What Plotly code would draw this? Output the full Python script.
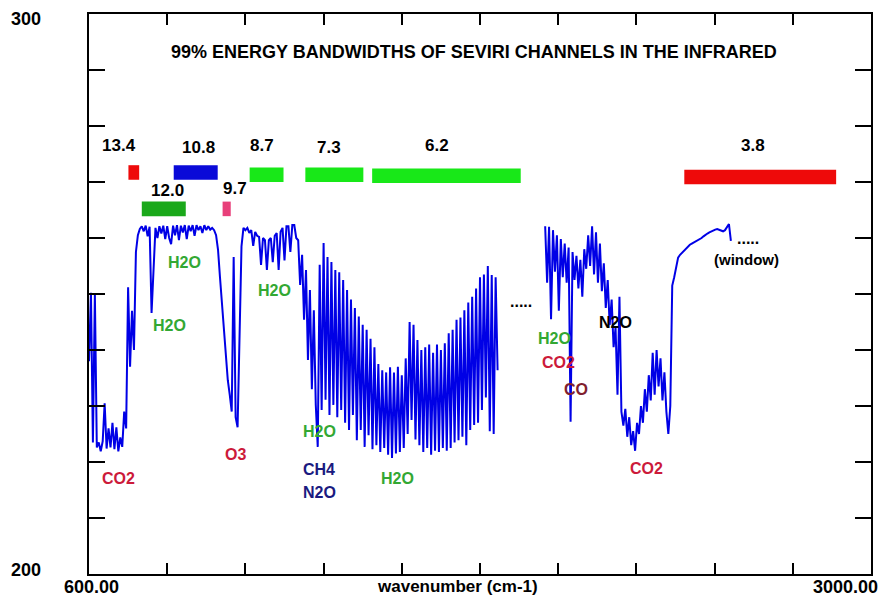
import numpy as np
import plotly.graph_objects as go

# ---------------- data ----------------
# spectrum segment 1 (sampled every 6 cm-1 from 600 cm-1)
seg1_start, seg1_step = 600, 6
seg1_T = [
    238.0, 250.2, 223.5, 250.0, 222.6, 223.5, 221.9, 223.7, 230.5, 222.4,
    226.0, 222.6, 227.0, 222.3, 226.2, 221.9, 224.4, 222.7, 229.0, 226.0,
    251.2, 237.0, 247.0, 240.0, 257.5, 260.5, 261.6, 262.1, 261.2, 262.2,
    260.3, 262.0, 246.6, 254.0, 261.8, 260.0, 262.1, 260.8, 262.2, 259.8,
    262.1, 260.0, 258.9, 262.2, 260.5, 262.3, 259.6, 262.2, 261.0, 262.3,
    259.8, 262.2, 261.2, 262.3, 260.4, 262.3, 261.4, 262.1, 260.9, 262.3,
    261.4, 262.1, 261.5, 261.8, 261.4, 260.5, 257.9, 253.0, 248.5, 243.6,
    240.0, 234.6, 232.0, 229.0, 256.6, 228.0, 226.2, 240.0, 258.5, 261.8,
    261.4, 261.8, 260.9, 261.4, 258.6, 261.1, 260.4, 260.2, 255.2, 260.0,
    259.6, 254.3, 259.6, 260.0, 255.7, 260.4, 260.9, 254.3, 261.1, 261.8,
    256.0, 262.1, 262.1, 257.5, 262.3, 262.3, 260.0, 259.6, 251.6, 257.0,
    245.4, 254.3, 238.2, 250.7, 233.0, 247.1, 230.2, 222.7, 255.2, 229.3,
    259.1, 231.1, 256.6, 228.4, 255.7, 230.2, 254.3, 228.0, 253.9, 229.3,
    252.5, 227.0, 250.7, 225.7, 249.0, 228.4, 247.5, 223.9, 246.0, 225.7,
    244.5, 222.7, 243.6, 224.8, 242.0, 222.3, 240.5, 223.0, 237.5, 221.8,
    236.4, 222.5, 236.0, 221.3, 236.9, 220.7, 236.0, 221.5, 237.0, 221.8,
    235.5, 222.5, 238.5, 225.0, 245.0, 227.5, 244.5, 224.0, 241.8, 223.0,
    240.0, 221.8, 240.5, 222.5, 241.0, 221.3, 239.5, 222.0, 241.0, 221.8,
    240.0, 222.5, 241.2, 222.0, 243.0, 222.5, 243.6, 223.5, 245.4, 223.9,
    245.8, 224.5, 247.1, 223.0, 248.5, 225.7, 249.5, 226.6, 251.0, 227.0,
    253.0, 229.3, 253.5, 231.5, 255.0, 225.5, 253.4, 225.0, 253.0, 236.4,
]
# spectrum segment 2 (sampled every 6 cm-1 from 2000 cm-1)
seg2_start, seg2_step = 2000, 6
seg2_T = [
    262.1, 252.0, 262.0, 245.5, 261.4, 254.0, 260.5, 247.0, 259.8, 253.0,
    259.0, 252.0, 258.3, 227.2, 257.5, 252.5, 256.8, 251.0, 256.1, 249.5,
    258.0, 254.5, 260.5, 255.0, 262.1, 253.5, 261.0, 252.0, 259.0, 250.5,
    255.5, 247.5, 252.5, 244.5, 249.0, 240.5, 244.0, 232.0, 249.5, 229.0,
    226.5, 229.5, 224.5, 228.0, 223.0, 225.5, 222.0, 227.0, 225.0, 230.0,
    227.0, 233.0, 229.0, 235.5, 231.0, 239.5, 232.0, 240.0, 233.5, 238.5,
    231.0, 236.0, 229.0, 225.0, 230.0, 251.5, 253.0, 255.0, 256.5, 257.0,
    257.4, 257.8, 258.2, 258.6, 258.8, 259.0, 259.2, 259.4, 259.6, 259.7,
    260.0, 260.3, 260.6, 260.8, 261.0, 261.2, 261.4, 261.5, 261.6, 261.5,
    261.4, 261.2, 261.4, 262.0, 262.5, 259.5,
]

# SEVIRI channel 99% energy bands
channels = ["13.4", "10.8", "8.7", "7.3", "6.2", "3.8", "12.0", "9.7"]
band_start = [721, 860, 1093, 1264, 1469, 2427, 762, 1010]
band_end = [754, 995, 1197, 1442, 1925, 2893, 897, 1035]
band_level = [271.7, 271.7, 271.3, 271.3, 271.1, 270.9, 265.2, 265.2]
band_colors = ["#ee0a0a", "#0a0ad8", "#18e818", "#18e818", "#18e818",
               "#ee0a0a", "#1aa81a", "#e8407a"]
label_pos = [(692, 276.6), (937, 276.2), (1130, 276.6), (1338, 276.2),
             (1668, 276.6), (2639, 276.6), (842, 268.4), (1047, 268.9)]

# gas labels
gas_text = ["H2O", "H2O", "H2O", "H2O", "CH4", "N2O", "H2O", "CO2", "O3",
            "CO2", "H2O", "CO2", "CO", "N2O"]
gas_wn = [894, 848, 1169, 1307, 1307, 1307, 1546, 689, 1050,
          2311, 2030, 2042, 2094, 2216]
gas_T = [255.7, 244.3, 250.7, 225.4, 218.6, 214.5, 217.1, 217.1, 221.4,
         218.9, 242.1, 237.7, 233.0, 245.0]
GREEN, RED, NAVY, DRED = "#33a833", "#cc1a3a", "#1a1a80", "#80202e"
gas_colors = [GREEN, GREEN, GREEN, GREEN, NAVY, NAVY, GREEN, RED, RED,
              RED, GREEN, RED, DRED, "#000000"]

x_ticks = list(range(600, 3001, 240))
y_ticks = list(range(200, 301, 10))

# ---------------- figure ----------------
FONT = "Liberation Sans, Arial, sans-serif"
fig = go.Figure()

wn1 = seg1_start + seg1_step * np.arange(len(seg1_T))
wn2 = seg2_start + seg2_step * np.arange(len(seg2_T))
for wn, T in ((wn1, seg1_T), (wn2, seg2_T)):
    fig.add_trace(go.Scatter(x=wn, y=T, mode="lines",
                             line=dict(color="#0000e6", width=2),
                             hoverinfo="skip", showlegend=False))

fig.add_trace(go.Bar(
    orientation="h",
    y=band_level,
    base=band_start,
    x=[e - s for s, e in zip(band_start, band_end)],
    width=[2.6] * len(channels),
    marker=dict(color=band_colors, line=dict(width=0)),
    showlegend=False, hoverinfo="skip",
))

ann = []
for name, (lx, ly) in zip(channels, label_pos):
    ann.append(dict(x=lx, y=ly, xref="x", yref="y", text=name,
                    font=dict(family=FONT, size=17, color="#000000")))
for t, gx, gy, c in zip(gas_text, gas_wn, gas_T, gas_colors):
    ann.append(dict(x=gx, y=gy, xref="x", yref="y", text=t,
                    font=dict(family=FONT, size=16, color=c)))
ann += [
    dict(x=1925, y=248.6, xref="x", yref="y", text=".....",
         font=dict(family=FONT, size=16, color="#000")),
    dict(x=2623, y=260.0, xref="x", yref="y", text=".....",
         font=dict(family=FONT, size=16, color="#000")),
    dict(x=2617, y=256.1, xref="x", yref="y", text="(window)",
         font=dict(family=FONT, size=15, color="#000")),
    dict(x=0.492, y=0.932, xref="paper", yref="paper",
         text="99% ENERGY BANDWIDTHS OF SEVIRI CHANNELS IN THE INFRARED",
         font=dict(family=FONT, size=18, color="#000")),
    dict(x=-0.081, y=0.991, xref="paper", yref="paper", text="300",
         font=dict(family=FONT, size=18, color="#000")),
    dict(x=-0.081, y=0.007, xref="paper", yref="paper", text="200",
         font=dict(family=FONT, size=18, color="#000")),
    dict(x=0.0026, y=-0.023, xref="paper", yref="paper", text="600.00",
         font=dict(family=FONT, size=18, color="#000")),
    dict(x=1.012, y=-0.023, xref="paper", yref="paper", text="3000.00",
         xanchor="right", font=dict(family=FONT, size=18, color="#000")),
    dict(x=0.4707, y=-0.023, xref="paper", yref="paper",
         text="wavenumber (cm-1)", font=dict(family=FONT, size=17, color="#000")),
]
for a in ann:
    a["showarrow"] = False
    a.setdefault("xanchor", "center")
    a["yanchor"] = "middle"
    a["font"]["weight"] = "bold"

fig.update_layout(
    width=881, height=598,
    margin=dict(l=89, r=8, t=14, b=24),
    paper_bgcolor="white", plot_bgcolor="white",
    annotations=ann,
    barmode="overlay",
    xaxis=dict(range=[600, 3000], tickvals=x_ticks, ticks="inside", ticklen=11,
               tickwidth=1.5, tickcolor="black", showticklabels=False,
               showgrid=False, zeroline=False, showline=True, linecolor="black",
               linewidth=2, mirror="ticks"),
    yaxis=dict(range=[200, 300], tickvals=y_ticks, ticks="inside", ticklen=16,
               tickwidth=1.5, tickcolor="black", showticklabels=False,
               showgrid=False, zeroline=False, showline=True, linecolor="black",
               linewidth=2, mirror="ticks"),
)

fig.write_html("out.html")
